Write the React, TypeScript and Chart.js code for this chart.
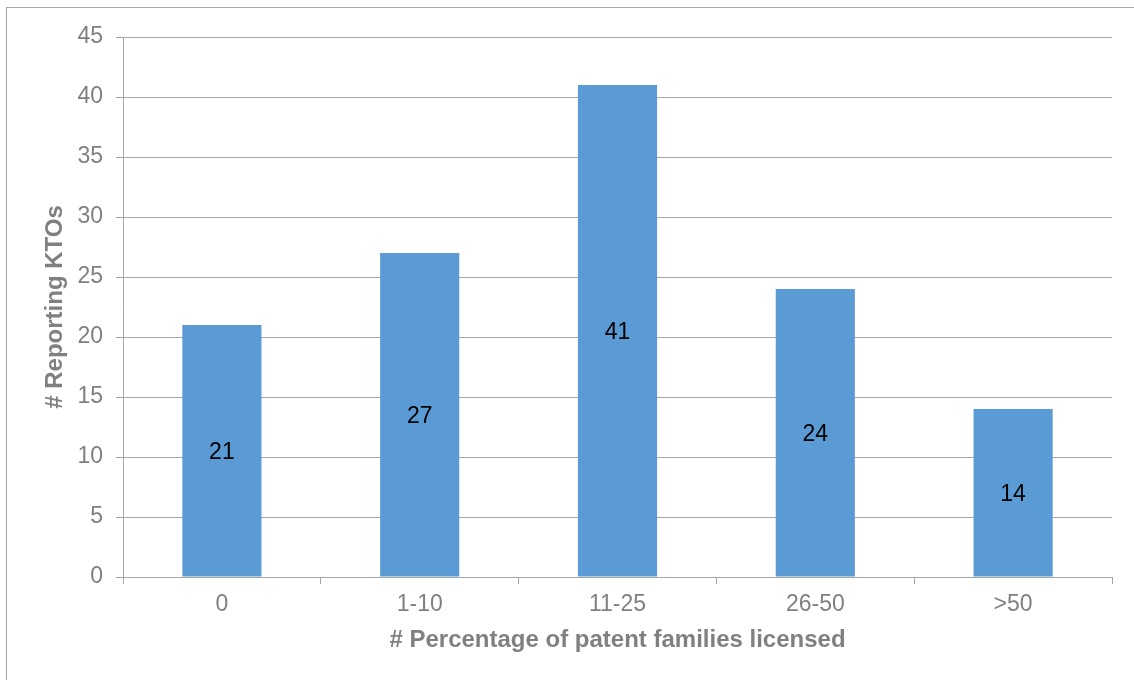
import React, { useEffect, useRef } from "react";
import { Chart, registerables } from "chart.js";

Chart.register(...registerables);

const categories = ["0", "1-10", "11-25", "26-50", ">50"];
const ktoCounts = [21, 27, 41, 24, 14];
const yTicks = { min: 0, max: 45, step: 5 };

const FONT = '"Liberation Sans", Arial, sans-serif';
const GRID = "#a6a6a6";
const TEXT = "#808080";
const BAR = "#5b9bd5";

// Writes each bar's value in the middle of the bar
const valueLabels = {
  id: "valueLabels",
  afterDatasetsDraw(chart: Chart) {
    const ctx = chart.ctx;
    const meta = chart.getDatasetMeta(0);
    const data = chart.data.datasets[0].data as number[];
    ctx.save();
    ctx.font = `23px ${FONT}`;
    ctx.fillStyle = "#000000";
    ctx.textAlign = "center";
    ctx.textBaseline = "middle";
    meta.data.forEach((el: any, i: number) => {
      const { x, y, base } = el.getProps(["x", "y", "base"], true);
      ctx.fillText(String(data[i]), x, (y + base) / 2 + 2);
    });
    ctx.restore();
  },
};

export default function App() {
  const canvasRef = useRef<HTMLCanvasElement | null>(null);

  useEffect(() => {
    if (!canvasRef.current) return;
    const chart = new Chart(canvasRef.current, {
      type: "bar",
      data: {
        labels: categories,
        datasets: [
          {
            data: ktoCounts,
            backgroundColor: BAR,
            borderWidth: 0,
            barPercentage: 0.8,
            categoryPercentage: 0.5,
          },
        ],
      },
      options: {
        animation: false,
        responsive: false,
        maintainAspectRatio: false,
        layout: { padding: { top: 37, right: 22, bottom: 0, left: 0 } },
        plugins: {
          legend: { display: false },
          tooltip: { enabled: false },
        },
        scales: {
          x: {
            offset: true,
            grid: {
              offset: true,
              drawOnChartArea: false,
              drawTicks: true,
              tickLength: 7,
              color: GRID,
              lineWidth: 1,
            },
            border: { display: true, color: GRID, width: 1 },
            ticks: {
              color: TEXT,
              font: { family: FONT, size: 23 },
              padding: 7,
            },
            title: {
              display: true,
              text: "# Percentage of patent families licensed",
              color: TEXT,
              font: { family: FONT, size: 24, weight: "bold" },
              padding: { top: 0, bottom: 25 },
            },
            afterFit(scale: any) {
              scale.height = 103;
            },
          },
          y: {
            min: yTicks.min,
            max: yTicks.max,
            grid: {
              color: GRID,
              lineWidth: 1,
              drawTicks: true,
              tickLength: 7,
            },
            border: { display: true, color: GRID, width: 1 },
            ticks: {
              stepSize: yTicks.step,
              color: TEXT,
              font: { family: FONT, size: 23 },
              padding: 13,
            },
            title: {
              display: true,
              text: "# Reporting KTOs",
              color: TEXT,
              font: { family: FONT, size: 24, weight: "bold" },
              padding: { top: 41, bottom: 0 },
            },
            afterFit(scale: any) {
              scale.width = 123;
            },
          },
        },
      },
      plugins: [valueLabels],
    });
    return () => chart.destroy();
  }, []);

  return (
    <div
      style={{
        position: "fixed",
        left: 0,
        top: 0,
        width: 1134,
        height: 680,
        overflow: "hidden",
        background: "#ffffff",
      }}
    >
      <div
        style={{
          position: "absolute",
          left: 6,
          top: 7,
          width: 1400,
          height: 900,
          border: "1px solid #a6a6a6",
        }}
      />
      <canvas
        ref={canvasRef}
        width={1134}
        height={680}
        style={{ position: "absolute", left: 0, top: 0, width: 1134, height: 680 }}
      />
    </div>
  );
}
